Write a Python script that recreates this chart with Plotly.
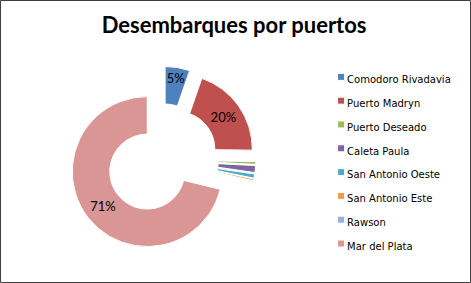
import plotly.graph_objects as go

ports = ["Comodoro Rivadavia", "Puerto Madryn", "Puerto Deseado", "Caleta Paula",
         "San Antonio Oeste", "San Antonio Este", "Rawson", "Mar del Plata"]
shares = [5.3, 19.9, 0.6, 1.5, 0.9, 0.4, 0.2, 71.2]
colors = ["#4F81BD", "#C0504D", "#9BBB59", "#8064A2", "#4BACC6", "#F79646", "#95B3D7", "#D99694"]
show_label = [True, True, False, False, False, False, False, True]
title_text = "Desembarques por puertos"

W, H = 471, 283
fig = go.Figure()
fig.add_trace(go.Pie(
    labels=['<span style="font-size:10px">' + p + '</span>' for p in ports],
    values=shares,
    sort=False,
    direction="clockwise",
    rotation=0,
    hole=0.5,
    pull=0.25,
    marker=dict(colors=colors, line=dict(color="white", width=1)),
    texttemplate=["%{percent:.0%}" if s else "" for s in show_label],
    textposition="inside",
    insidetextorientation="horizontal",
    textfont=dict(family="Lato", size=13, color="black"),
    domain=dict(x=[0.1449, 0.5430], y=[0.1034, 0.7659]),
    hoverinfo="label+percent",
))
fig.update_layout(
    width=W, height=H, autosize=False,
    margin=dict(l=0, r=0, t=0, b=0),
    paper_bgcolor="white", plot_bgcolor="white",
    uniformtext=dict(minsize=13, mode="show"),
    title=dict(text="<b>" + title_text + "</b>", x=0.497, xanchor="center",
               y=0.91, yanchor="middle",
               font=dict(family="Lato", size=22, color="black")),
    legend=dict(x=0.652, xanchor="left", y=0.788, yanchor="top",
                font=dict(family="DejaVu Sans", size=16, color="black"),
                bgcolor="rgba(0,0,0,0)"),
    shapes=[dict(type="rect", xref="paper", yref="paper",
                 x0=0.5 / W, y0=0.5 / H, x1=1 - 0.5 / W, y1=1 - 0.5 / H,
                 line=dict(color="#404040", width=1), fillcolor="rgba(0,0,0,0)")],
)

post = """
var gd = document.getElementById('{plot_id}');
function fixLegend(){
  gd.querySelectorAll('path.legendpie').forEach(function(p){
    p.setAttribute('d', 'M3.5,3.5H-3.5V-3.5H3.5Z');
    p.setAttribute('transform', 'translate(34,0)');
  });
}
fixLegend();
gd.on('plotly_afterplot', fixLegend);
"""
fig.write_html("out.html", post_script=post)
